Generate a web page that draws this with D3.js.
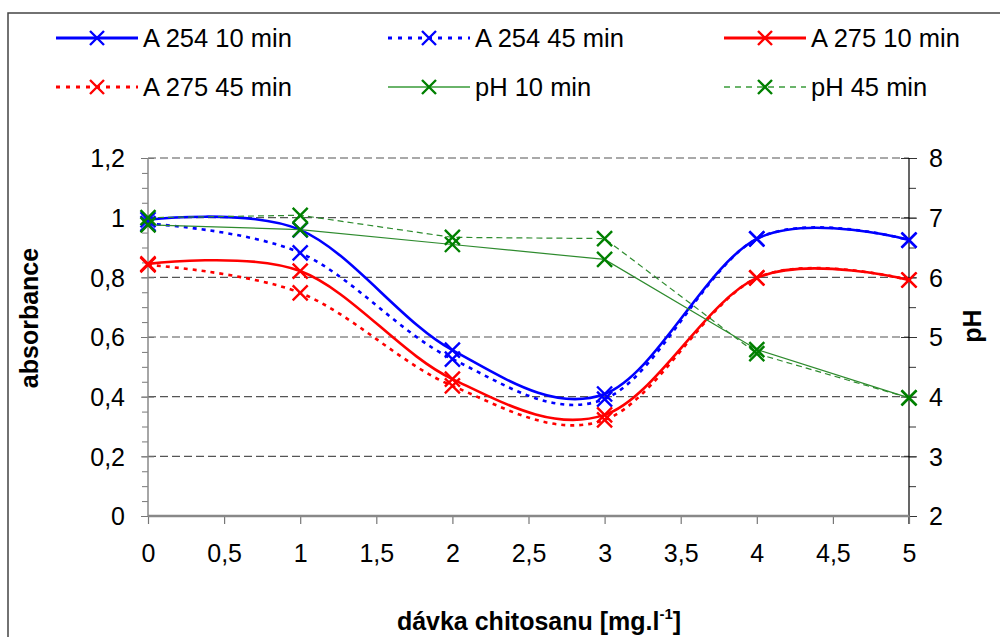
<!DOCTYPE html>
<html>
<head>
<meta charset="utf-8">
<script src="https://cdn.jsdelivr.net/npm/d3@7/dist/d3.min.js"></script>
<style>
  html, body { margin: 0; padding: 0; background: #fff; }
  svg { display: block; font-family: "Liberation Sans", Arial, sans-serif; }
</style>
</head>
<body>
<svg id="chart" width="1000" height="637"></svg>
<script>
// chitosan dose [mg/l]
const doses = [0, 1, 2, 3, 4, 5];

// absorbance at 254 nm and 275 nm after 10 and 45 min
const a254_10 = [0.993, 0.959, 0.556, 0.409, 0.929, 0.925];
const a254_45 = [0.980, 0.882, 0.526, 0.392, 0.929, 0.925];
const a275_10 = [0.845, 0.821, 0.459, 0.339, 0.798, 0.791];
const a275_45 = [0.842, 0.748, 0.436, 0.322, 0.798, 0.791];

// pH after 10 and 45 min
const ph_10 = [6.88, 6.80, 6.55, 6.30, 4.79, 3.98];
const ph_45 = [7.00, 7.04, 6.67, 6.65, 4.72, 3.98];

const xTicks = [0, 0.5, 1, 1.5, 2, 2.5, 3, 3.5, 4, 4.5, 5];
const absTicks = [0, 0.2, 0.4, 0.6, 0.8, 1.0, 1.2];
const phTicks = [2, 3, 4, 5, 6, 7, 8];

const series = [
  { name: "A 254 10 min", values: a254_10, axis: "abs", color: "#0000ff", width: 2.6, dash: null, smooth: true, mark: "#0000ff" },
  { name: "A 254 45 min", values: a254_45, axis: "abs", color: "#0000ff", width: 2.6, dash: "4,5", smooth: true, mark: "#0000ff" },
  { name: "A 275 10 min", values: a275_10, axis: "abs", color: "#ff0000", width: 2.6, dash: null, smooth: true, mark: "#ff0000" },
  { name: "A 275 45 min", values: a275_45, axis: "abs", color: "#ff0000", width: 2.6, dash: "4,5", smooth: true, mark: "#ff0000" },
  { name: "pH 10 min", values: ph_10, axis: "ph", color: "#2e8b2e", width: 1.2, dash: null, smooth: false, mark: "#008000" },
  { name: "pH 45 min", values: ph_45, axis: "ph", color: "#2e8b2e", width: 1.2, dash: "6,4", smooth: false, mark: "#008000" }
];

const svg = d3.select("#chart");
const plotLeft = 148, plotRight = 909, plotTop = 158, plotBottom = 516;

const x = d3.scaleLinear().domain([0, 5]).range([plotLeft, plotRight]);
const yAbs = d3.scaleLinear().domain([0, 1.2]).range([plotBottom, plotTop]);
const yPh = d3.scaleLinear().domain([2, 8]).range([plotBottom, plotTop]);

const fmt = d => d3.format("")(d).replace(".", ",");

// outer frame
svg.append("rect")
  .attr("x", 8).attr("y", 13).attr("width", 1010).attr("height", 650)
  .attr("fill", "none").attr("stroke", "#444").attr("stroke-width", 1.5);

// horizontal dashed grid
svg.append("g").selectAll("line")
  .data(absTicks.filter(d => d > 0))
  .join("line")
  .attr("x1", plotLeft).attr("x2", plotRight)
  .attr("y1", d => yAbs(d)).attr("y2", d => yAbs(d))
  .attr("stroke", "#555").attr("stroke-width", 1.1)
  .attr("stroke-dasharray", "8,4");

function styleAxis(g) {
  g.select(".domain").remove();
  g.selectAll("text")
    .attr("font-size", 25)
    .attr("fill", "#000")
    .attr("font-family", "'Liberation Sans', Arial, sans-serif");
}

// left axis: minor ticks
svg.append("g")
  .attr("transform", `translate(${plotLeft},0)`)
  .call(d3.axisLeft(yAbs).tickValues(d3.range(0, 1.2001, 0.05)).tickSize(6).tickFormat(""))
  .call(g => g.select(".domain").remove())
  .selectAll("line").attr("stroke", "#777");

// left axis: major ticks and labels
svg.append("g")
  .attr("transform", `translate(${plotLeft},0)`)
  .call(d3.axisLeft(yAbs).tickValues(absTicks).tickSize(7).tickPadding(16).tickFormat(fmt))
  .call(styleAxis)
  .call(g => g.selectAll("line").attr("stroke", "#777").attr("x2", -7).attr("x1", 6))
  .call(g => g.selectAll("text").attr("dy", "0.35em"));

svg.append("line")
  .attr("x1", plotLeft).attr("x2", plotLeft).attr("y1", plotTop).attr("y2", plotBottom)
  .attr("stroke", "#888").attr("stroke-width", 1.5);

// right axis: minor ticks
svg.append("g")
  .attr("transform", `translate(${plotRight},0)`)
  .call(d3.axisRight(yPh).tickValues(d3.range(2, 8.001, 0.5)).tickSize(7).tickFormat(""))
  .call(g => g.select(".domain").remove())
  .selectAll("line").attr("stroke", "#333");

// right axis: major ticks and labels
svg.append("g")
  .attr("transform", `translate(${plotRight},0)`)
  .call(d3.axisRight(yPh).tickValues(phTicks).tickSize(8).tickPadding(12).tickFormat(fmt))
  .call(styleAxis)
  .call(g => g.selectAll("line").attr("stroke", "#333").attr("x1", -8).attr("x2", 8))
  .call(g => g.selectAll("text").attr("dy", "0.35em"));

svg.append("line")
  .attr("x1", plotRight).attr("x2", plotRight).attr("y1", plotTop).attr("y2", plotBottom + 8)
  .attr("stroke", "#000").attr("stroke-width", 1.2);

// bottom axis
svg.append("g")
  .attr("transform", `translate(0,${plotBottom})`)
  .call(d3.axisBottom(x).tickValues(xTicks).tickSize(8).tickPadding(20).tickFormat(fmt))
  .call(styleAxis)
  .call(g => g.selectAll("line").attr("stroke", "#777").attr("stroke-width", 1.2));

svg.append("line")
  .attr("x1", plotLeft).attr("x2", plotRight).attr("y1", plotBottom).attr("y2", plotBottom)
  .attr("stroke", "#888").attr("stroke-width", 2.4);

// series lines
const plot = svg.append("g");
series.forEach(s => {
  const y = s.axis === "abs" ? yAbs : yPh;
  const line = d3.line()
    .x((d, i) => x(doses[i]))
    .y(d => y(d))
    .curve(s.smooth ? d3.curveCardinal.tension(0) : d3.curveLinear);
  plot.append("path")
    .datum(s.values)
    .attr("d", line)
    .attr("fill", "none")
    .attr("stroke", s.color)
    .attr("stroke-width", s.width)
    .attr("stroke-dasharray", s.dash);
});

// X markers
function cross(g, cx, cy, color, r) {
  g.append("path")
    .attr("d", `M${cx - r},${cy - r}L${cx + r},${cy + r}M${cx - r},${cy + r}L${cx + r},${cy - r}`)
    .attr("stroke", color).attr("stroke-width", 2.4).attr("fill", "none");
}
series.forEach(s => {
  const y = s.axis === "abs" ? yAbs : yPh;
  s.values.forEach((v, i) => cross(plot, x(doses[i]), y(v), s.mark, 7.5));
});

// legend
const legendCols = [56, 388, 724];
const legendRows = [38, 87];
series.forEach((s, i) => {
  const lx = legendCols[i % 3], ly = legendRows[Math.floor(i / 3)];
  const g = svg.append("g");
  g.append("line")
    .attr("x1", lx).attr("x2", lx + 82).attr("y1", ly).attr("y2", ly)
    .attr("stroke", s.axis === "ph" ? "#6ab46a" : s.color)
    .attr("stroke-width", s.axis === "ph" ? 2 : 3)
    .attr("stroke-dasharray", s.dash ? (s.axis === "ph" ? "6,5" : "4,6") : null);
  cross(g, lx + 41, ly, s.mark, 7);
  g.append("text")
    .attr("x", lx + 87).attr("y", ly).attr("dy", "0.35em")
    .attr("font-size", 25.5).text(s.name);
});

// axis titles
svg.append("text")
  .attr("transform", `translate(38,318) rotate(-90)`)
  .attr("text-anchor", "middle")
  .attr("font-size", 25).attr("font-weight", "bold")
  .text("absorbance");

svg.append("text")
  .attr("transform", `translate(981,326) rotate(-90)`)
  .attr("text-anchor", "middle")
  .attr("font-size", 25).attr("font-weight", "bold")
  .text("pH");

const xt = svg.append("text")
  .attr("x", 539).attr("y", 630)
  .attr("text-anchor", "middle")
  .attr("font-size", 25).attr("font-weight", "bold");
xt.append("tspan").text("dávka chitosanu [mg.l");
xt.append("tspan").attr("font-size", 15).attr("dy", -11).text("-1");
xt.append("tspan").attr("dy", 11).text("]");
</script>
</body>
</html>
